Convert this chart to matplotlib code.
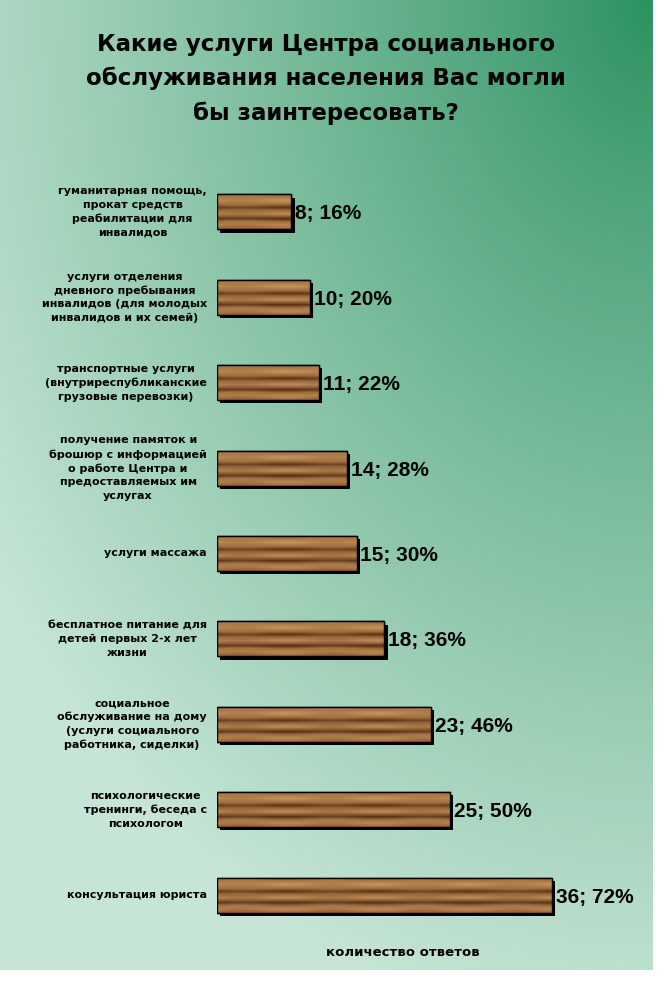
import numpy as np
import matplotlib
matplotlib.use("Agg")
import matplotlib.pyplot as plt
import matplotlib.patheffects as pe

plt.rcParams['font.family'] = ['Liberation Sans', 'DejaVu Sans']

# data
services = [
    "гуманитарная помощь,\nпрокат средств\nреабилитации для\nинвалидов",
    "услуги отделения\nдневного пребывания\nинвалидов (для молодых\nинвалидов и их семей)",
    "транспортные услуги\n(внутриреспубликанские\nгрузовые перевозки)",
    "получение памяток и\nброшюр с информацией\nо работе Центра и\nпредоставляемых им\nуслугах",
    "услуги массажа",
    "бесплатное питание для\nдетей первых 2-х лет\nжизни",
    "социальное\nобслуживание на дому\n(услуги социального\nработника, сиделки)",
    "психологические\nтренинги, беседа с\nпсихологом",
    "консультация юриста",
]
counts = [8, 10, 11, 14, 15, 18, 23, 25, 36]
percents = [16, 20, 22, 28, 30, 36, 46, 50, 72]

title = "Какие услуги Центра социального\nобслуживания населения Вас могли\nбы заинтересовать?"
xlabel = "количество ответов"

W, H = 665, 983
fig = plt.figure(figsize=(W / 100, H / 100), dpi=100)
fig.patch.set_facecolor("white")

# green gradient panel
pw, ph = 653, 970
bg = fig.add_axes([0, 1 - ph / H, pw / W, ph / H])
xx, yy = np.meshgrid(np.linspace(0, pw, 330), np.linspace(0, ph, 490))
t = np.sqrt(((pw - xx) / 800.0) ** 2 + (yy / 1050.0) ** 2)
t = np.clip(t, 0, 1) ** 0.9
dark = np.array([0.17, 0.57, 0.38])
light = np.array([0.78, 0.90, 0.84])
grad = dark + (light - dark) * t[..., None]
bg.imshow(grad, aspect="auto", extent=(0, 1, 0, 1), origin="upper")
bg.axis("off")

# main axes
px_per_unit = 9.3
top_px, bot_px = 169.3, 937.7
ax = fig.add_axes([217 / W, 1 - bot_px / H, (pw - 217) / W, (bot_px - top_px) / H])
ax.patch.set_alpha(0)
for s in ax.spines.values():
    s.set_visible(False)
ax.set_xticks([])
ax.set_yticks([])

ypos = np.arange(len(services))
bh = 0.41
bars = ax.barh(ypos, counts, height=bh, color="#a36d3c", edgecolor="black", lw=1, zorder=2,
               path_effects=[pe.SimplePatchShadow(offset=(2.3, -2.3), shadow_rgbFace="black", alpha=1), pe.Normal()])

# wood grain texture
ctrl = [0.0, 0.08, 0.2, 0.32, 0.4, 0.47, 0.58, 0.66, 0.72, 0.8, 0.9, 1.0]
rc = ["#8f5f30", "#a87545", "#bb8a56", "#a06c3c", "#5e3a1c", "#98673a", "#b58452", "#895a30", "#5a381c", "#a4703f", "#b4824e", "#966439"]
rgb = np.array([matplotlib.colors.to_rgb(c) for c in rc])
rows = np.linspace(0, 1, 40)
cols = np.linspace(0, 1, 300)
prof = np.stack([np.interp(rows, ctrl, rgb[:, k]) for k in range(3)], axis=-1)
wave = 0.035 * np.sin(cols * 23.0)[None, :] * np.sin(rows * 17.0 + 1.3)[:, None]
tex = np.clip(prof[:, None, :] + wave[..., None], 0, 1)

for b, y, c in zip(bars, ypos, counts):
    im = ax.imshow(tex[:, : max(30, int(300 * c / 36))], extent=(0, c, y + bh / 2, y - bh / 2),
                   origin="upper", aspect="auto", zorder=3)
    im.set_clip_path(b)
ax.barh(ypos, counts, height=bh, fill=False, edgecolor="black", lw=1, zorder=4)

ax.set_xlim(0, (pw - 217) / px_per_unit)
ax.set_ylim(len(services) - 0.5, -0.5)

for y, lab in zip(ypos, services):
    ax.annotate(lab, xy=(0, y), xytext=(-10, 0), textcoords="offset pixels",
                ha="right", va="center", multialignment="center",
                fontsize=8.0, fontweight="bold", linespacing=1.45, family="DejaVu Sans")

for y, c, p in zip(ypos, counts, percents):
    ax.annotate(f"{c}; {p}%", xy=(c, y), xytext=(4, -2), textcoords="offset pixels",
                ha="left", va="center", fontsize=15, fontweight="bold")

fig.text(326 / W, 1 - 79 / H, title, ha="center", va="center", fontsize=16.5,
         fontweight="bold", linespacing=1.58, family="DejaVu Sans")
fig.text(403 / W, 1 - 952 / H, xlabel, ha="center", va="center", fontsize=9.5,
         fontweight="bold", family="DejaVu Sans")

fig.savefig("out.png", dpi=100)
